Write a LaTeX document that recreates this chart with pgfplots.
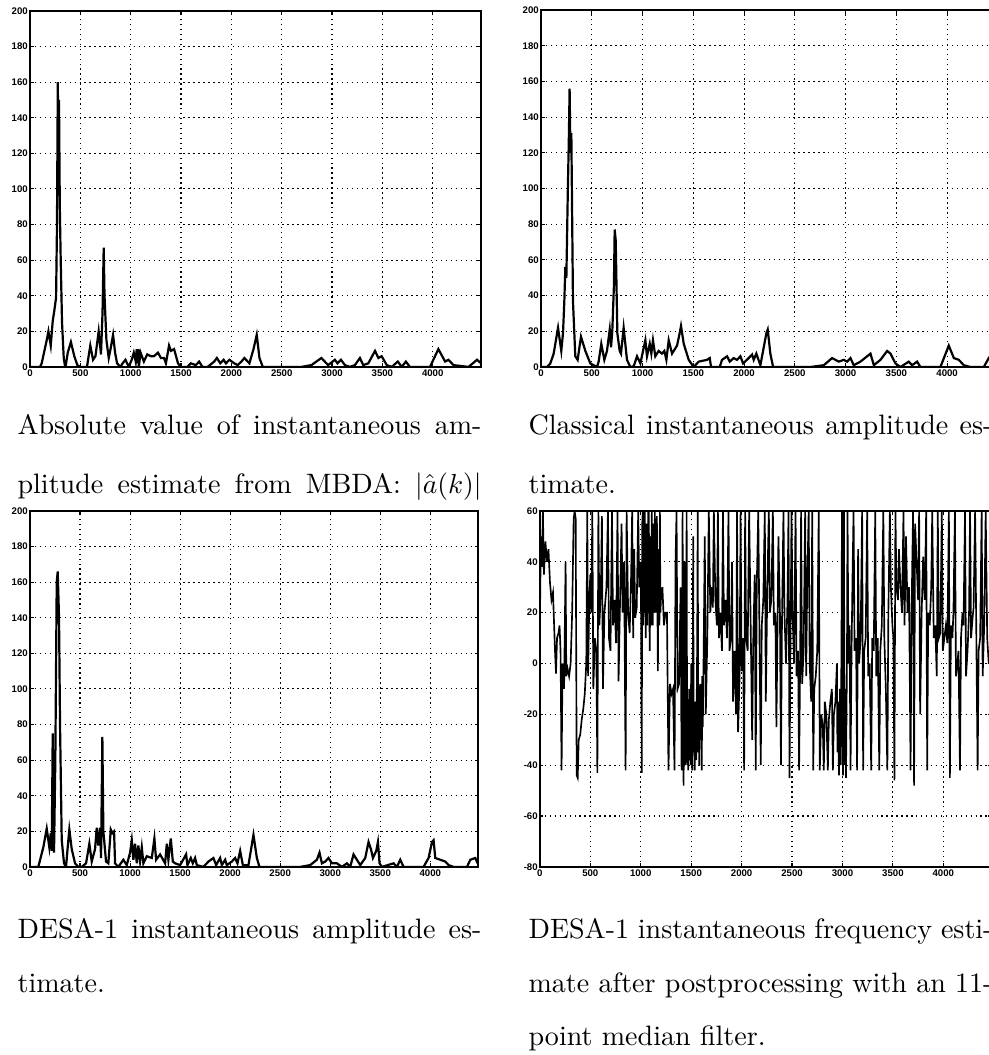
\documentclass[border=0pt]{standalone}
\usepackage{fontspec}
\usepackage{pgfplots}
\pgfplotsset{compat=1.18}
\newfontfamily\tickfont{Liberation Sans}

% 1 px of the reference = 0.3636pt
\pgfplotsset{
  mplot/.style={
    scale only axis, anchor=north west,
    xmin=0, xmax=4480, xtick={0,500,...,4000},
    grid=major,
    major grid style={black, line width=0.4pt, dash pattern=on 0.5pt off 1.3pt},
    axis line style={line width=0.6pt},
    tick style={black, line width=0.4pt},
    tick align=inside, major tick length=1.3pt,
    xtick pos=both, ytick pos=both,
    xticklabel pos=bottom, yticklabel pos=left,
    ticklabel style={font=\tickfont\bfseries\fontsize{3.5}{4}\selectfont},
    yticklabel style={inner sep=0.6pt},
    xticklabel style={inner sep=0.8pt},
    /pgf/number format/assume math mode=true,
    /pgf/number format/1000 sep={},
    scaled ticks=false,
  },
  amp/.style={ymin=0, ymax=200, ytick={0,20,...,200}},
}

\begin{document}
\begin{tikzpicture}
\useasboundingbox (0,0) rectangle (359.6pt,-383.6pt);
\clip (0,0) rectangle (359.6pt,-383.6pt);

% top left: MBDA amplitude
\begin{axis}[mplot, amp, at={(10.91pt,-4.0pt)}, width=164pt, height=129.4pt]
\addplot[black, line width=0.8pt] coordinates {
(0,0)(100,0)(116,2)(166,15)(183,20)(206,12)(226,26)(240,31)(259,39)(268,80)
(276,160)(282,120)(288,150)(296,90)(305,60)(318,25)(335,5)(349,0)(353,0)
(375,8)(406,14)(440,6)(470,1)(500,0)(566,0)(582,6)(599,12)(626,4)(650,6)
(682,20)(705,7)(720,30)(732,67)(740,40)(759,15)(782,5)(800,10)(825,18)
(845,8)(865,2)(898,0)(920,2)(948,4)(981,0)(1010,4)(1031,8)(1050,3)(1060,10)
(1071,2)(1076,10)(1081,0)(1098,8)(1131,3)(1164,7)(1200,6)(1231,6)(1271,8)
(1300,5)(1331,5)(1350,2)(1381,12)(1400,9)(1431,10)(1470,2)(1497,0)(1564,0)
(1597,2)(1647,1)(1680,3)(1713,0)(1764,0)(1830,3)(1856,5)(1890,2)(1923,4)
(1946,2)(1980,4)(2029,2)(2063,1)(2100,3)(2129,5)(2179,2)(2220,10)(2252,18)
(2279,5)(2312,0)(2695,0)(2795,1)(2894,5)(2961,1)(3028,4)(3054,2)(3088,4)
(3128,1)(3177,0)(3227,1)(3277,5)(3310,1)(3360,2)(3427,9)(3460,5)(3493,6)
(3543,1)(3593,0)(3653,3)(3693,0)(3733,3)(3773,0)(3973,0)(4056,10)(4123,3)
(4156,4)(4206,1)(4356,0)(4440,4)(4480,2)
};
\end{axis}

% top right: classical amplitude
\begin{axis}[mplot, amp, at={(196.7pt,-3.64pt)}, width=165.4pt, height=129.8pt]
\addplot[black, line width=0.8pt] coordinates {
(0,0)(59,0)(92,2)(125,7.5)(168,22)(190,13)(200,9)(217,19)(230,37)(240,56)
(250,50)(263,94)(275,130)(282,156)(290,120)(299,131)(315,37)(338,6)(361,4)
(394,17)(437,9)(486,2)(552,0)(568,3)(594,13)(624,4)(650,9)(677,21)(690,11)
(703,21)(718,45)(726,77)(736,71)(752,19)(775,9)(788,7.5)(814,22)(847,4)
(880,0)(913,0.4)(946,6)(979,2)(1005,9)(1028,15)(1044,6)(1071,13)(1087,7.5)
(1103,15)(1126,6)(1159,9)(1192,7.5)(1215,9)(1235,4)(1258,15)(1291,7.5)
(1340,12)(1366,19)(1379,23)(1406,13)(1455,4)(1504,0)(1553,3)(1635,4)
(1662,5)(1675,0)(1760,0)(1783,4)(1833,6)(1859,3)(1898,5)(1931,4)(1964,6)
(1990,2)(2046,5)(2079,7)(2095,4)(2121,7.5)(2161,1)(2220,19)(2233,21)
(2259,7.5)(2286,0)(2653,0)(2785,1)(2867,5)(2933,3)(2982,4)(3015,3)(3048,5)
(3080,1)(3146,3)(3245,7.5)(3278,1)(3343,4)(3409,9)(3442,7.5)(3491,2)
(3540,0)(3622,3)(3655,1)(3704,3)(3737,0)(3934,0)(4016,12)(4066,5)(4115,4)
(4164,1)(4230,0)(4361,0)(4410,5)(4427,4)(4480,3)
};
\end{axis}

% bottom left: DESA-1 amplitude
\begin{axis}[mplot, amp, at={(10.91pt,-185.8pt)}, width=163pt, height=129.4pt]
\addplot[black, line width=0.8pt] coordinates {
(0,0)(83,0)(133,11)(167,21.5)(193,11)(207,19)(217,9)(227,75)(240,8)(253,60)
(267,160)(277,166)(290,140)(300,80)(317,15)(340,2)(360,0)(383,15)(393,21)
(417,10)(450,2)(483,0)(517,0)(560,2)(593,13)(617,3)(650,10)(667,22)(683,12)
(700,22)(710,5)(723,73)(733,20)(760,3)(783,2)(807,21)(823,19)(840,20)
(850,2)(883,0)(933,4)(967,1)(1000,8)(1017,15)(1033,4)(1050,13)(1067,2)
(1083,12)(1100,3)(1117,11)(1133,2)(1167,6)(1217,5)(1243,16)(1260,4)
(1300,7)(1350,2)(1367,13)(1383,4)(1407,16)(1427,3)(1450,2)(1500,1)
(1560,7)(1573,1)(1607,5)(1627,2)(1650,5)(1667,1)(1733,0)(1783,3)(1833,5)
(1860,1)(1900,5)(1917,1)(1950,4)(1967,1)(2017,3)(2050,5)(2073,2)(2100,9)
(2127,1)(2183,1)(2233,18)(2267,5)(2293,0)(2700,0)(2800,1)(2867,4)(2893,8)
(2917,2)(2950,3)(2983,5)(3017,2)(3067,2)(3117,0)(3167,2)(3200,0)(3233,7)
(3267,4)(3300,1)(3350,5)(3383,14)(3407,10)(3427,5)(3460,9)(3477,14)
(3493,2)(3517,0)(3633,2)(3667,0)(3700,4)(3733,0)(3933,0)(3983,5)(4017,14)
(4033,15)(4050,5)(4100,4)(4150,3)(4183,1)(4233,0)(4367,0)(4400,4)(4450,5)
(4473,2)
};
\end{axis}

% bottom right: DESA-1 frequency after median filter
\begin{axis}[mplot, at={(196.3pt,-185.8pt)}, width=164.3pt, height=129.4pt,
  ymin=-80, ymax=60, ytick={-80,-60,...,60}]
\addplot[black, line width=0.6pt] coordinates {
(0,15)(10,50)(20,38)(30,60)(40,35)(55,48)(70,40)(85,45)(100,32)(115,25)
(130,28)(150,5)(160,-4)(170,10)(185,12)(195,15)(205,5)(215,-42)(225,0)
(240,-10)(255,40)(262,-5)(275,-2)(290,-5)(305,0)(320,20)(335,57)(345,60)
(355,57)(365,-44)(375,-45)(385,-30)(400,-28)(415,-22)(430,-18)(445,-12)
(460,0)(470,60)(478,-5)(490,25)(500,35)(510,20)(520,60)(530,-10)(545,10)
(560,5)(570,-43)(580,60)(590,15)(605,30)(615,58)(625,-10)(640,20)(660,30)
(675,60)(685,10)(700,5)(715,60)(725,15)(740,25)(755,8)(770,60)(780,-7)
(795,25)(810,55)(820,20)(835,40)(850,-42)(860,60)(875,20)(890,12)(905,35)
(915,60)(925,10)(935,45)(945,18)(960,22)(975,60)(985,30)(1000,40)(1005,10)
(1010,-43)(1015,55)(1020,60)(1025,15)(1030,45)(1035,20)(1040,60)(1045,30)
(1050,10)(1055,55)(1060,50)(1065,15)(1070,40)(1075,60)(1080,60)(1085,20)
(1090,5)(1095,50)(1100,40)(1105,15)(1110,60)(1115,30)(1120,15)(1125,55)
(1130,45)(1135,20)(1140,60)(1145,30)(1150,20)(1155,50)(1160,58)(1165,25)
(1170,-3)(1175,45)(1180,35)(1185,15)(1190,60)(1195,20)(1200,25)(1215,30)
(1230,15)(1245,20)(1260,20)(1275,-42)(1290,-8)(1305,-12)(1320,-10)
(1335,-42)(1345,40)(1355,60)(1365,-10)(1380,-8)(1395,30)(1405,-42)
(1410,5)(1415,60)(1420,-30)(1425,-48)(1430,0)(1435,40)(1440,-40)(1445,-30)
(1450,-5)(1455,60)(1460,-40)(1465,-20)(1470,-42)(1475,-35)(1480,-10)
(1485,-38)(1490,-25)(1495,-40)(1500,0)(1505,-30)(1510,-42)(1515,-10)
(1520,50)(1525,-35)(1530,-20)(1535,-42)(1540,-15)(1545,-30)(1550,-38)
(1555,-15)(1560,10)(1565,60)(1570,-35)(1575,-25)(1580,-40)(1585,-10)
(1590,-8)(1595,-30)(1600,-20)(1605,-42)(1610,-5)(1615,-25)(1620,-10)
(1635,50)(1645,-20)(1660,10)(1675,60)(1690,20)(1700,30)
(1715,22)(1725,60)(1740,25)(1755,15)(1765,60)(1775,10)(1790,20)(1805,5)
(1815,60)(1825,15)(1840,25)(1855,10)(1870,60)(1880,5)(1895,10)(1905,40)
(1915,-15)(1930,5)(1945,-20)(1955,60)(1965,-27)(1980,-5)(1990,60)(2000,-3)
(2015,10)(2025,-42)(2035,60)(2045,10)(2060,5)(2075,60)(2090,15)(2105,-30)
(2115,8)(2130,35)(2140,-42)(2150,30)(2165,60)(2175,20)(2190,-40)(2200,15)
(2215,25)(2230,60)(2240,-15)(2255,30)(2270,60)(2280,20)(2295,25)(2310,60)
(2320,15)(2335,20)(2345,-25)(2355,10)(2365,50)(2380,20)(2390,-40)(2400,15)
(2415,60)(2425,20)(2440,0)(2455,25)(2465,60)(2475,-45)(2485,10)(2495,60)
(2505,20)(2520,0)(2535,60)(2545,-5)(2560,5)(2570,-42)(2580,0)(2590,60)
(2600,-8)(2615,5)(2630,60)(2640,-5)(2650,30)(2665,60)(2675,0)(2690,-15)
(2700,60)(2710,-42)(2720,-10)(2735,-5)(2750,5)(2765,60)(2775,-42)(2790,-20)
(2805,-25)(2815,-42)(2825,-15)(2840,-20)(2855,-42)(2865,-22)(2880,-15)
(2895,-10)(2905,-42)(2915,-20)(2930,-15)(2945,0)(2950,-35)(2955,-15)
(2960,-25)(2965,-44)(2970,-30)(2975,-10)(2980,-40)(2985,-20)(2990,5)
(2995,60)(3000,-30)(3005,-44)(3010,-15)(3015,60)(3020,-40)(3025,-35)
(3030,-10)(3035,-45)(3040,-20)(3045,5)(3050,60)(3060,0)
(3070,15)(3080,-42)(3090,5)(3100,35)(3110,60)(3120,5)(3135,10)(3145,-42)
(3155,45)(3165,0)(3180,10)(3195,60)(3205,-42)(3215,5)(3230,10)(3245,60)
(3255,-5)(3270,0)(3285,-42)(3295,10)(3310,5)(3325,60)(3335,-5)(3350,10)
(3365,-42)(3375,5)(3390,15)(3405,60)(3415,10)(3430,-10)(3445,-42)(3455,20)
(3470,60)(3480,30)(3495,15)(3505,10)(3515,-46)(3525,60)(3535,30)(3550,25)
(3560,45)(3575,30)(3590,20)(3605,60)(3615,15)(3630,50)(3645,20)(3660,30)
(3675,-42)(3685,20)(3700,60)(3710,-48)(3720,55)(3735,40)(3750,25)(3760,60)
(3770,-20)(3785,20)(3800,42)(3815,25)(3830,60)(3840,-42)(3850,20)(3865,15)
(3880,30)(3890,60)(3905,10)(3920,15)(3935,-5)(3945,60)(3955,10)(3970,12)
(3985,60)(3995,5)(4010,10)(4025,15)(4040,8)(4055,60)(4065,-45)(4075,15)
(4090,10)(4100,20)(4115,60)(4125,-5)(4140,0)(4150,5)(4165,-42)(4175,10)
(4190,20)(4200,15)(4215,60)(4225,-5)(4240,5)(4255,20)(4265,60)(4275,10)
(4290,18)(4300,22)(4315,60)(4325,20)(4340,-42)(4350,5)(4365,10)(4380,60)
(4390,-5)(4405,15)(4420,60)(4435,10)(4450,0)(4465,5)(4480,10)
};
\end{axis}

% captions
\begin{scope}[every node/.style={anchor=base west, inner sep=0pt, font=\fontsize{10.2}{12}\selectfont}]
\node at (6.2pt,-157.8pt) {\makebox[168.7pt][s]{Absolute value of instantaneous am-}};
\node at (6.2pt,-179.6pt) {\makebox[168.7pt][s]{plitude estimate from MBDA: $|\hat{a}(k)|$}};
\node at (192pt,-157.8pt) {\makebox[168.7pt][s]{Classical instantaneous amplitude es-}};
\node at (192pt,-179.6pt) {timate.};
\node at (6.2pt,-341.1pt) {\makebox[168.7pt][s]{DESA-1 instantaneous amplitude es-}};
\node at (6.2pt,-360.7pt) {timate.};
\node at (192pt,-341.1pt) {\makebox[168.7pt][s]{DESA-1 instantaneous frequency esti-}};
\node at (192pt,-360.7pt) {\makebox[168.7pt][s]{mate after postprocessing with an 11-}};
\node at (192pt,-380.3pt) {point median filter.};
\end{scope}
\end{tikzpicture}
\end{document}
